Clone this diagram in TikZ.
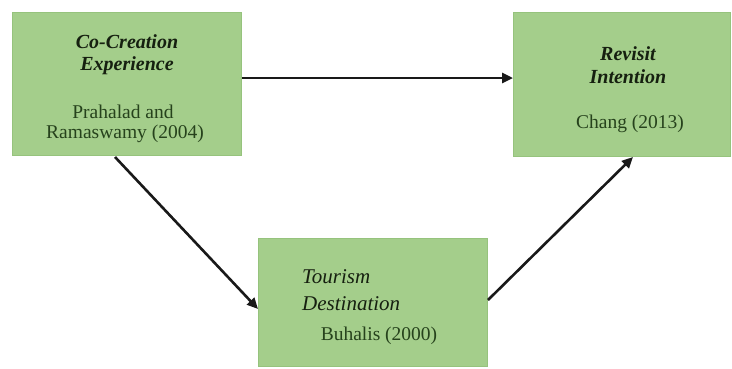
\documentclass[tikz,border=0pt]{standalone}
\usepackage{fontspec}
\setmainfont{Liberation Serif}
\usetikzlibrary{arrows.meta}
\definecolor{boxgreen}{RGB}{164,206,139}
\definecolor{boxedge}{RGB}{150,195,125}
\definecolor{citegreen}{RGB}{38,66,28}
\definecolor{titlecol}{RGB}{22,32,16}
\tikzset{
  box/.style={draw=boxedge, fill=boxgreen, line width=0.6pt, inner sep=0pt, anchor=north west},
  ttl/.style={font=\fontsize{20}{22}\selectfont\bfseries\itshape, text=titlecol, inner sep=0pt, anchor=base},
  ttlb/.style={font=\fontsize{21}{24}\selectfont\itshape, text=titlecol, inner sep=0pt, anchor=base west},
  cite/.style={font=\fontsize{19.5}{22}\selectfont, text=citegreen, inner sep=0pt, anchor=base},
  arr/.style={draw=black!90, line width=2.6pt, -{Triangle[length=11pt,width=10pt]}}
}
\begin{document}
\begin{tikzpicture}[x=1pt,y=-1pt]
\useasboundingbox (0,0) rectangle (732,368);
% boxes
\node[box, minimum width=229pt, minimum height=143pt] (b1) at (12,12) {};
\node[box, minimum width=217pt, minimum height=144pt] (b2) at (513,12) {};
\node[box, minimum width=229pt, minimum height=128pt] (b3) at (258,238) {};
% box 1 text
\node[ttl] (t1a) at (127,48) {Co-Creation};
\node[ttl] (t1b) at (127,70) {Experience};
\node[cite] (c1a) at (123,118) {Prahalad and};
\node[cite] (c1b) at (125,138) {Ramaswamy (2004)};
% box 2 text
\node[ttl] (t2a) at (628,60) {Revisit};
\node[ttl] (t2b) at (628,83) {Intention};
\node[cite] (c2) at (630,128) {Chang (2013)};
% box 3 text
\node[ttlb] (t3a) at (302,283) {Tourism};
\node[ttlb] (t3b) at (302,310) {Destination};
\node[cite] (c3) at (379,340) {Buhalis (2000)};
% connectors
\coordinate (a1s) at (242,78);
\coordinate (a1e) at (513,78);
\draw[arr] (a1s) -- (a1e);
\coordinate (a2s) at (115,157);
\coordinate (a2e) at (258,309);
\draw[arr] (a2s) -- (a2e);
\coordinate (a3s) at (488,300);
\coordinate (a3e) at (633,157);
\draw[arr] (a3s) -- (a3e);
\end{tikzpicture}
\end{document}
